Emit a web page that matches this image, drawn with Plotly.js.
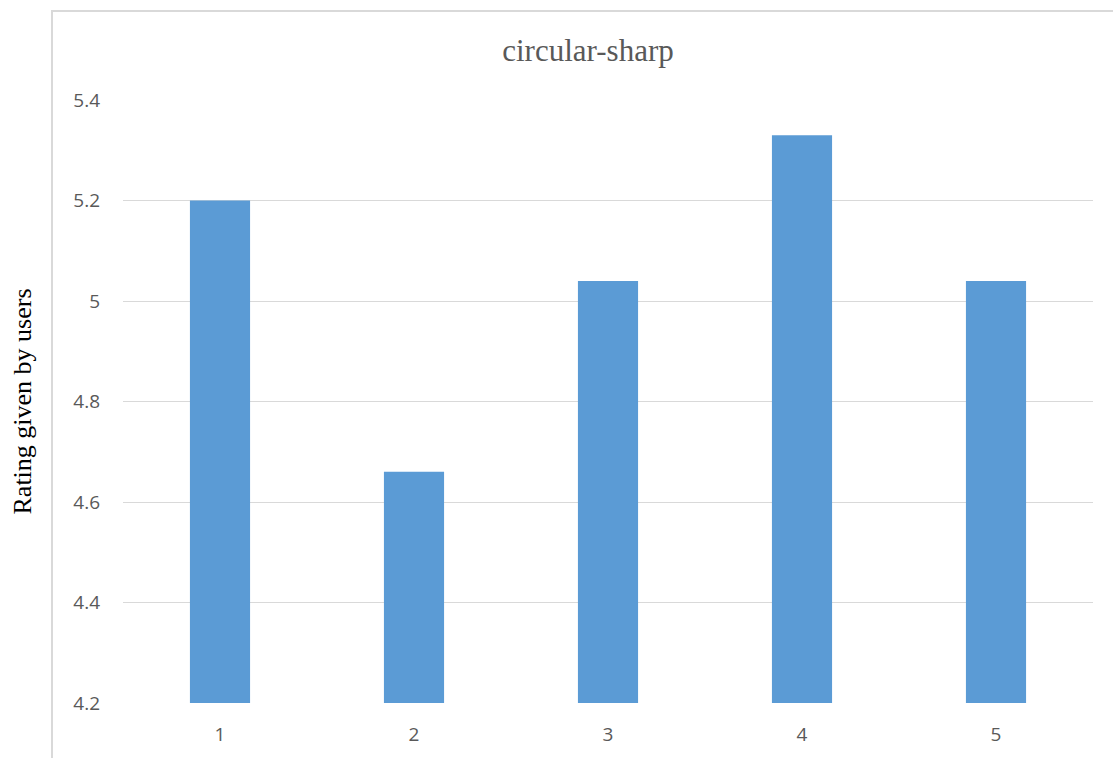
<!DOCTYPE html>
<html>
<head>
<meta charset="utf-8">
<script src="https://cdn.plot.ly/plotly-3.0.1.min.js"></script>
<style>html,body{margin:0;padding:0;background:#fff;}#chart{width:1113px;height:758px;}</style>
</head>
<body>
<div id="chart"></div>
<script>
const categories = ["1", "2", "3", "4", "5"];
const ratings = [5.20, 4.66, 5.04, 5.33, 5.04];
const yTicks = [4.2, 4.4, 4.6, 4.8, 5.0, 5.2, 5.4];

const trace = {
  type: "bar",
  x: categories,
  y: ratings,
  marker: { color: "#5B9BD5" },
  hoverinfo: "x+y"
};

const W = 1113, H = 758, L = 123, R = 20, T = 100, B = 55;
const pw = W - L - R, ph = H - T - B;

const layout = {
  width: W,
  height: H,
  margin: { l: L, r: R, t: T, b: B },
  paper_bgcolor: "#ffffff",
  plot_bgcolor: "#ffffff",
  bargap: 0.69,
  showlegend: false,
  title: {
    text: "circular-sharp",
    font: { family: "Liberation Serif, Times New Roman, serif", size: 31, color: "#595959" },
    x: 588 / W, xref: "container", xanchor: "center",
    y: 1 - 50 / H, yref: "container", yanchor: "middle"
  },
  xaxis: {
    type: "category",
    showgrid: false,
    zeroline: false,
    showline: false,
    ticks: "",
    ticklabelstandoff: 18,
    tickfont: { family: "Open Sans, sans-serif", size: 19, color: "#595959" }
  },
  yaxis: {
    range: [4.2, 5.4],
    tickvals: yTicks,
    ticktext: yTicks.map(v => (Math.round(v * 10) / 10).toString()),
    showgrid: true,
    gridcolor: "#D9D9D9",
    gridwidth: 1,
    zeroline: false,
    showline: false,
    ticks: "",
    ticklabelstandoff: 22,
    tickfont: { family: "Open Sans, sans-serif", size: 19, color: "#595959" }
  },
  annotations: [
    {
      text: "Rating given by users",
      xref: "paper", yref: "paper",
      x: (22 - L) / pw, y: 0.5,
      xanchor: "center", yanchor: "middle",
      textangle: -90,
      showarrow: false,
      font: { family: "Liberation Serif, Times New Roman, serif", size: 26, color: "#000000" }
    }
  ],
  shapes: [
    {
      type: "rect", xref: "paper", yref: "paper",
      x0: (52 - L) / pw, x1: (W + 20 - L) / pw,
      y0: -(H + 20 - (T + ph)) / ph, y1: (T + ph - 11) / ph,
      line: { color: "#D9D9D9", width: 2 },
      fillcolor: "rgba(0,0,0,0)",
      layer: "below"
    }
  ]
};

Plotly.newPlot("chart", [trace], layout, { displayModeBar: false, staticPlot: true });
</script>
</body>
</html>
